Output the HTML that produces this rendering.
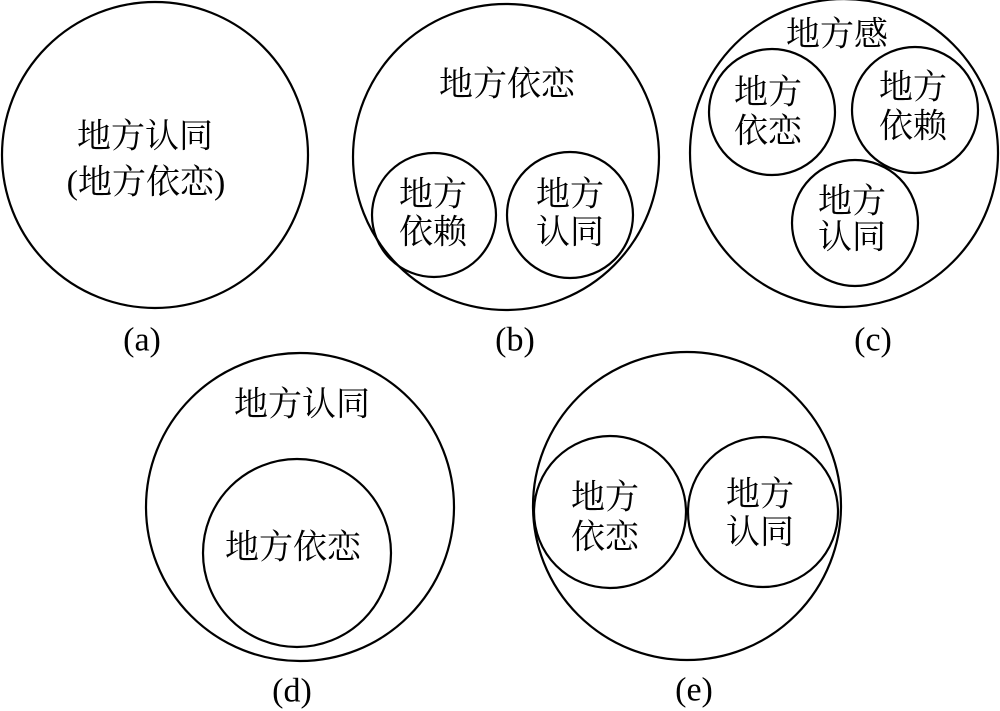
<!DOCTYPE html>
<html><head><meta charset="utf-8"><style>
html,body{margin:0;padding:0;background:#fff;}
svg{display:block;}
text{font-family:"Liberation Serif","Noto Serif CJK SC",serif;font-size:34px;fill:#000;text-anchor:middle;dominant-baseline:central;}
circle{fill:none;stroke:#000;stroke-width:2.2;}
</style></head><body>
<svg width="1000" height="711" viewBox="0 0 1000 711" xmlns="http://www.w3.org/2000/svg">
<!-- a -->
<circle cx="155" cy="155" r="153"/>
<text x="145" y="137">地方认同</text>
<text x="146" y="183">(地方依恋)</text>
<text x="142" y="340">(a)</text>
<!-- b -->
<circle cx="506" cy="157" r="153"/>
<circle cx="434" cy="215" r="62"/>
<circle cx="570" cy="215" r="63"/>
<text x="507" y="85">地方依恋</text>
<text x="433" y="195">地方</text>
<text x="433" y="233">依赖</text>
<text x="570" y="195">地方</text>
<text x="570" y="233">认同</text>
<text x="515" y="340">(b)</text>
<!-- c -->
<circle cx="844" cy="153" r="154"/>
<circle cx="772" cy="112" r="63"/>
<circle cx="915" cy="110" r="63"/>
<circle cx="855" cy="223" r="63"/>
<text x="837" y="35">地方感</text>
<text x="768" y="93">地方</text>
<text x="768" y="132">依恋</text>
<text x="913" y="88">地方</text>
<text x="913" y="127">依赖</text>
<text x="852" y="202">地方</text>
<text x="852" y="238">认同</text>
<text x="873" y="340">(c)</text>
<!-- d -->
<circle cx="300" cy="507" r="154"/>
<circle cx="297" cy="553" r="94"/>
<text x="302" y="405">地方认同</text>
<text x="293" y="548">地方依恋</text>
<text x="292" y="691">(d)</text>
<!-- e -->
<circle cx="687" cy="506" r="154"/>
<circle cx="610" cy="512" r="76"/>
<circle cx="763" cy="512" r="75"/>
<text x="605" y="498">地方</text>
<text x="605" y="538">依恋</text>
<text x="760" y="495">地方</text>
<text x="760" y="533">认同</text>
<text x="694" y="690">(e)</text>
</svg>
</body></html>
